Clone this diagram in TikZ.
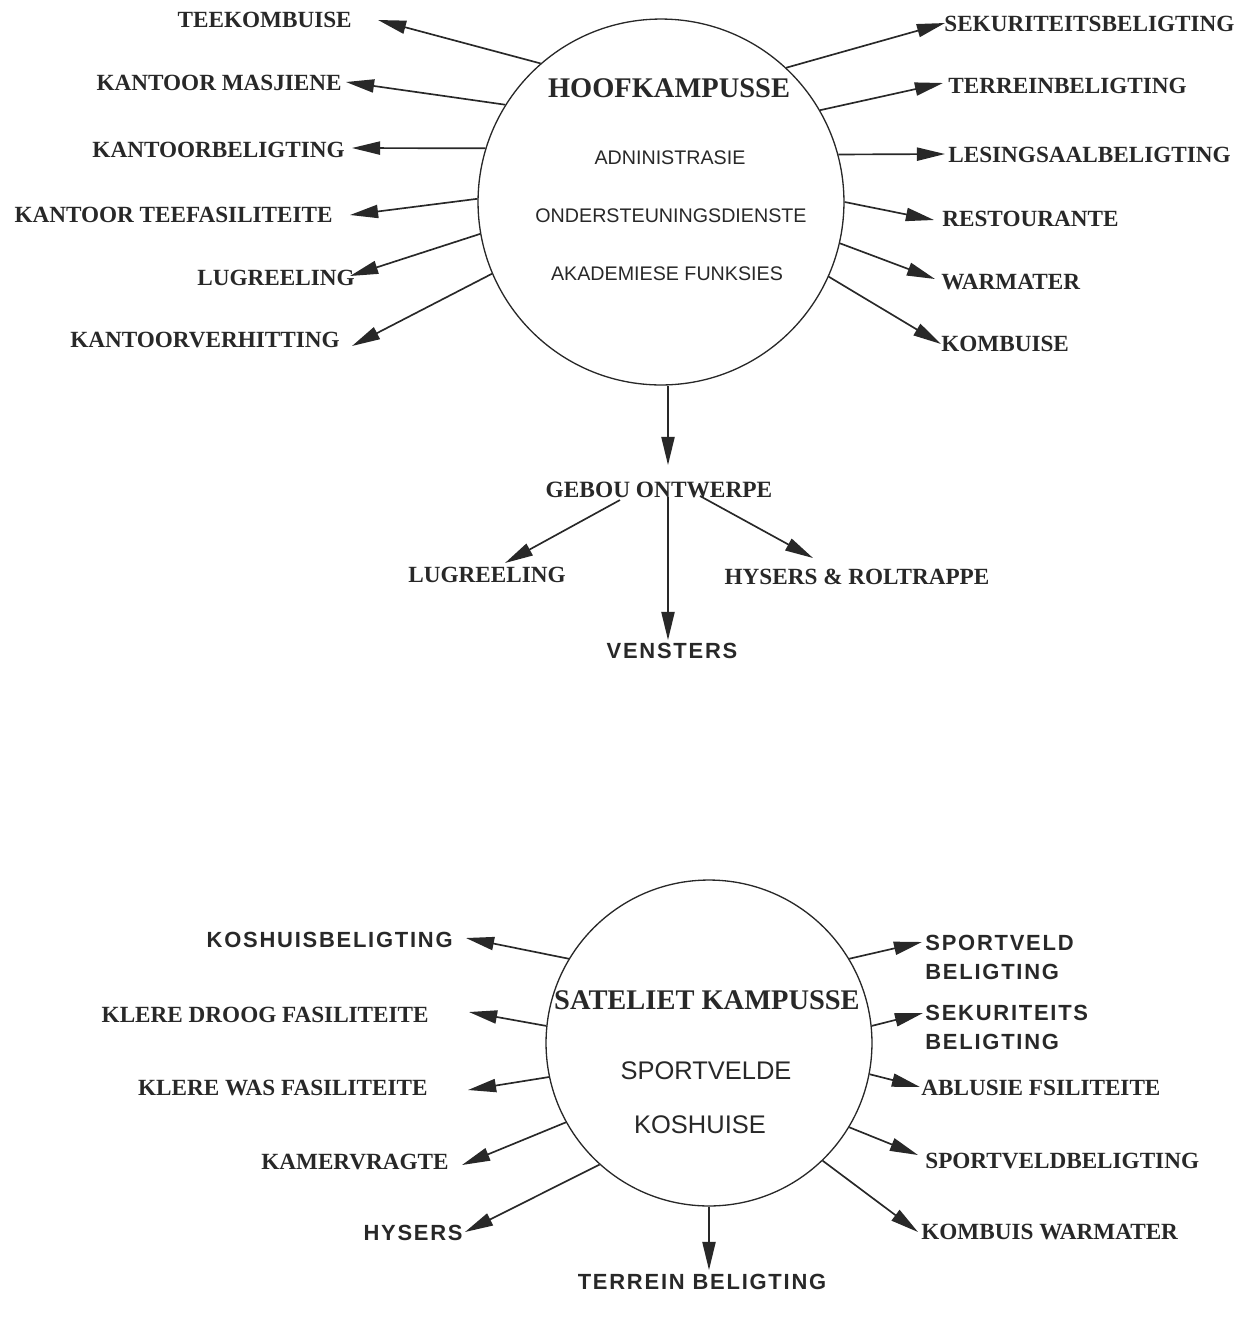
\documentclass[tikz,border=0pt]{standalone}
\usepackage{fontspec}
\setmainfont{Liberation Serif}
\newfontfamily\plotfont{Liberation Sans}
\newfontfamily\plotbold[LetterSpace=8]{Liberation Sans}
\usetikzlibrary{arrows.meta}
\definecolor{ink}{RGB}{40,40,40}
\begin{document}
\begin{tikzpicture}[x=0.02cm,y=-0.02cm,
  lbl/.style={font=\fontsize{13.2}{15}\selectfont\bfseries, text=ink, inner sep=0pt},
  plbl/.style={font=\plotbold\fontsize{12.5}{16.4}\selectfont\bfseries, text=ink, inner sep=0pt},
  ttl/.style={font=\fontsize{16.2}{18}\selectfont\bfseries, text=ink, inner sep=0pt},
  innera/.style={font=\plotfont\fontsize{11.2}{13}\selectfont, text=ink, inner sep=0pt},
  innerb/.style={font=\plotfont\fontsize{14.5}{16}\selectfont, text=ink, inner sep=0pt},
  ring/.style={circle, draw=ink, line width=0.75pt, inner sep=0pt},
  arr/.style={draw=ink, line width=0.95pt, -{Triangle[length=16pt,width=7.5pt]}}
]
\useasboundingbox (0,0) rectangle (1250,1323);

% ---------- top circle ----------
\node[ring, minimum size=7.32cm] (hoof) at (661,202) {};
\node[ttl] (hoofT) at (669,88) {HOOFKAMPUSSE};
\node[innera] (adm) at (670,158) {ADNINISTRASIE};
\node[innera] (ond) at (671,216) {ONDERSTEUNINGSDIENSTE};
\node[innera] (aka) at (667,274) {AKADEMIESE FUNKSIES};

% left labels
\node[lbl, anchor=east] (tl1) at (352,20) {TEEKOMBUISE};
\node[lbl, anchor=east] (tl2) at (342,83) {KANTOOR MASJIENE};
\node[lbl, anchor=east] (tl3) at (345,150) {KANTOORBELIGTING};
\node[lbl, anchor=east] (tl4) at (333,215) {KANTOOR TEEFASILITEITE};
\node[lbl, anchor=east] (tl5) at (355,278) {LUGREELING};
\node[lbl, anchor=east] (tl6) at (340,340) {KANTOORVERHITTING};
\coordinate (tt1) at (378,20);
\coordinate (tt2) at (346,82);
\coordinate (tt3) at (352,148);
\coordinate (tt4) at (350,215);
\coordinate (tt5) at (350,276);
\coordinate (tt6) at (352,346);
\draw[arr] (hoof.131.0) -- (tt1);
\draw[arr] (hoof.148.7) -- (tt2);
\draw[arr] (hoof.163.0) -- (tt3);
\draw[arr] (hoof.179.4) -- (tt4);
\draw[arr] (hoof.190.8) -- (tt5);
\draw[arr] (hoof.203.9) -- (tt6);

% right labels
\node[lbl, anchor=west] (tr1) at (944,24) {SEKURITEITSBELIGTING};
\node[lbl, anchor=west] (tr2) at (948,86) {TERREINBELIGTING};
\node[lbl, anchor=west] (tr3) at (948,155) {LESINGSAALBELIGTING};
\node[lbl, anchor=west] (tr4) at (942,219) {RESTOURANTE};
\node[lbl, anchor=west] (tr5) at (941,282) {WARMATER};
\node[lbl, anchor=west] (tr6) at (941,344) {KOMBUISE};
\coordinate (rt1) at (945,23);
\coordinate (rt2) at (943,83);
\coordinate (rt3) at (945,154);
\coordinate (rt4) at (934,220);
\coordinate (rt5) at (935,279);
\coordinate (rt6) at (941,344);
\draw[arr] (hoof.47.8) -- (rt1);
\draw[arr] (hoof.30.4) -- (rt2);
\draw[arr] (hoof.15.2) -- (rt3);
\draw[arr] (hoof.0.3) -- (rt4);
\draw[arr] (hoof.-13.4) -- (rt5);
\draw[arr] (hoof.-24.9) -- (rt6);

% down branch
\node[lbl, font=\fontsize{13.3}{15}\selectfont\bfseries] (gebou) at (659,490) {GEBOU ONTWERPE};
\coordinate (gtop) at (668,465);
\draw[arr] (gtop |- hoof.south) -- (gtop);
\node[lbl] (lug2) at (487,575) {LUGREELING};
\node[plbl] (vens) at (672,651) {VENSTERS};
\node[lbl] (hys) at (857,577) {HYSERS \& ROLTRAPPE};
\coordinate (gL) at (620,500);
\coordinate (gM) at (668,497);
\coordinate (gR) at (700,496);
\coordinate (lugT) at (505,563);
\coordinate (venT) at (668,640);
\coordinate (hysT) at (813,558);
\draw[arr] (gL) -- (lugT);
\draw[arr] (gM) -- (venT);
\draw[arr] (gR) -- (hysT);

% ---------- bottom circle ----------
\node[ring, minimum size=6.52cm] (sat) at (709,1043) {};
\node[ttl] (satT) at (707,1000) {SATELIET KAMPUSSE};
\node[innerb] (spv) at (706,1071) {SPORTVELDE};
\node[innerb] (kos) at (700,1125) {KOSHUISE};

% left labels
\node[plbl, anchor=east] (bl1) at (453,940) {KOSHUISBELIGTING};
\node[lbl, anchor=east] (bl2) at (429,1015) {KLERE DROOG FASILITEITE};
\node[lbl, anchor=east] (bl3) at (428,1088) {KLERE WAS FASILITEITE};
\node[lbl, anchor=east] (bl4) at (449,1162) {KAMERVRAGTE};
\node[plbl, anchor=east] (bl5) at (463,1233) {HYSERS};
\coordinate (lb1) at (466,938);
\coordinate (lb2) at (469,1012);
\coordinate (lb3) at (468,1090);
\coordinate (lb4) at (462,1165);
\coordinate (lb5) at (465,1232);
\draw[arr] (sat.149.2) -- (lb1);
\draw[arr] (sat.174.7) -- (lb2);
\draw[arr] (sat.192.3) -- (lb3);
\draw[arr] (sat.209.4) -- (lb4);
\draw[arr] (sat.228.7) -- (lb5);

% right labels
\node[plbl, anchor=north west, align=left] (br1) at (925,935) {SPORTVELD\\BELIGTING};
\node[plbl, anchor=north west, align=left] (br2) at (925,1005) {SEKURITEITS\\BELIGTING};
\node[lbl, anchor=west] (br3) at (921,1088) {ABLUSIE FSILITEITE};
\node[lbl, anchor=west] (br4) at (925,1161) {SPORTVELDBELIGTING};
\node[lbl, anchor=west] (br5) at (921,1232) {KOMBUIS WARMATER};
\coordinate (rb1) at (922,942);
\coordinate (rb2) at (923,1013);
\coordinate (rb3) at (920,1087);
\coordinate (rb4) at (918,1155);
\coordinate (rb5) at (918,1232);
\draw[arr] (sat.31.7) -- (rb1);
\draw[arr] (sat.6.3) -- (rb2);
\draw[arr] (sat.-11.9) -- (rb3);
\draw[arr] (sat.-31.1) -- (rb4);
\draw[arr] (sat.-46.5) -- (rb5);

\node[plbl] (terr) at (702,1282) {TERREIN BELIGTING};
\coordinate (terT) at (709,1270);
\draw[arr] (sat.-90) -- (terT);
\end{tikzpicture}
\end{document}
